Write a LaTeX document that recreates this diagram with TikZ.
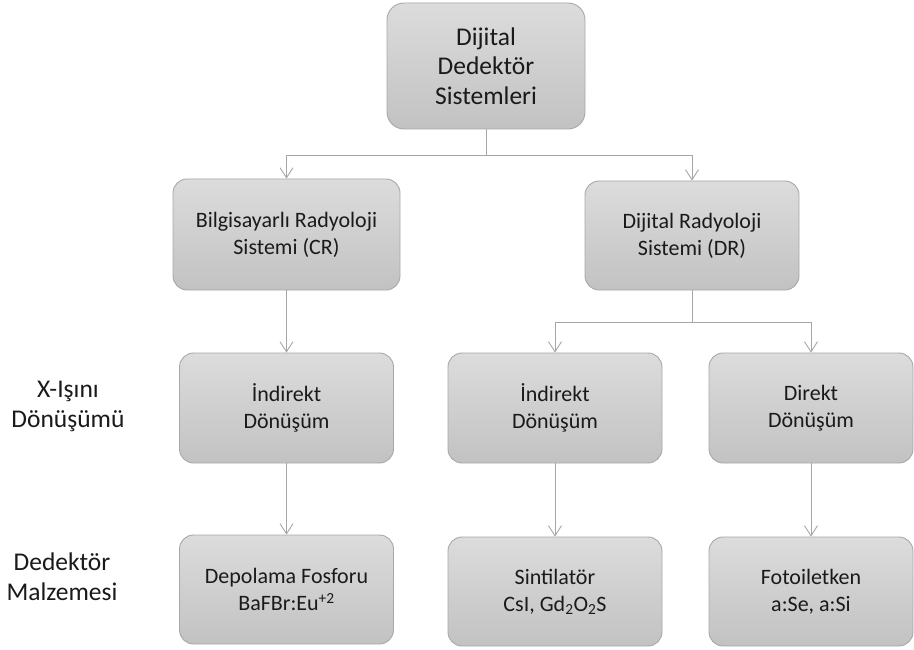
\documentclass[tikz,border=0pt]{standalone}
\usepackage{fontspec}
\setmainfont{Carlito}
\usetikzlibrary{arrows.meta,calc}
\definecolor{boxtop}{HTML}{DCDCDC}
\definecolor{boxbot}{HTML}{C2C2C2}
\definecolor{boxedge}{HTML}{A8A8A8}
\definecolor{linegray}{HTML}{A6A6A6}
\definecolor{txt}{HTML}{1A1A1A}
\tikzset{
  box/.style={draw=boxedge, line width=0.9pt, rounded corners=14pt,
    top color=boxtop, bottom color=boxbot, text=txt, align=center,
    inner sep=0pt, font=\fontsize{22}{27}\selectfont},
  bigbox/.style={box, rounded corners=17pt, font=\fontsize{25.5}{29.5}\selectfont},
  sidelabel/.style={text=txt, align=center, inner sep=0pt,
    font=\fontsize{25.5}{30}\selectfont},
  conn/.style={draw=linegray, line width=0.9pt,
    -{Straight Barb[length=10pt,width=13pt,line width=0.9pt]}},
  link/.style={draw=linegray, line width=0.9pt}
}
\begin{document}
\begin{tikzpicture}[x=1pt,y=-1pt]
\useasboundingbox (0,0) rectangle (914,650);

% top level
\node[bigbox, minimum width=198pt, minimum height=126pt] (top) at (486,66)
  {Dijital\\Dedektör\\Sistemleri};

% system types
\node[box, minimum width=227pt, minimum height=111pt] (cr) at (286.5,234.5)
  {Bilgisayarlı Radyoloji\\Sistemi (CR)};
\node[box, minimum width=214pt, minimum height=109pt] (dr) at (692,235.5)
  {Dijital Radyoloji\\Sistemi (DR)};

% conversion type
\node[box, minimum width=214pt, minimum height=110pt] (crind) at (286.5,408)
  {İndirekt\\Dönüşüm};
\node[box, minimum width=214pt, minimum height=110pt] (drind) at (555,408)
  {İndirekt\\Dönüşüm};
\node[box, minimum width=204pt, minimum height=110pt] (drdir) at (811,408)
  {Direkt\\Dönüşüm};

% detector material
\node[box, minimum width=214pt, minimum height=109pt] (phos) at (286.5,589.5)
  {Depolama Fosforu\\BaFBr:Eu\textsuperscript{+2}};
\node[box, minimum width=214pt, minimum height=109pt] (scint) at (555,591.5)
  {Sintilatör\\CsI, Gd\textsubscript{2}O\textsubscript{2}S};
\node[box, minimum width=204pt, minimum height=109pt] (photo) at (811,591.5)
  {Fotoiletken\\a:Se, a:Si};

% row labels
\node[sidelabel] (lblconv) at (68,406) {X-Işını\\Dönüşümü};
\node[sidelabel] (lblmat) at (62,577) {Dedektör\\Malzemesi};

% connectors
\coordinate (topjoin) at ($(top.south)+(0,26)$);
\draw[link] (top.south) -- (topjoin);
\draw[conn] (topjoin) -| (cr.north);
\draw[conn] (topjoin) -| (dr.north);

\coordinate (drjoin) at ($(dr.south)+(0,32)$);
\draw[link] (dr.south) -- (drjoin);
\draw[conn] (drjoin) -| (drind.north);
\draw[conn] (drjoin) -| (drdir.north);

\draw[conn] (cr.south) -- (crind.north);
\draw[conn] (crind.south) -- (phos.north);
\draw[conn] (drind.south) -- (scint.north);
\draw[conn] (drdir.south) -- (photo.north);
\end{tikzpicture}
\end{document}
